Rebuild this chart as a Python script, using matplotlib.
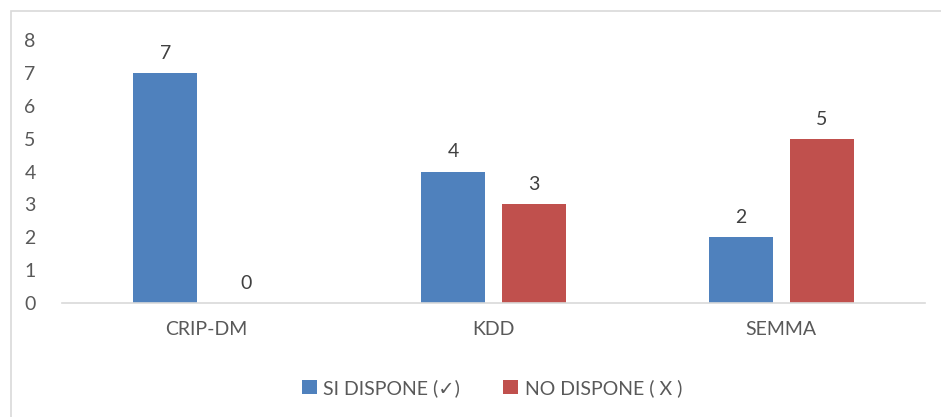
import matplotlib
matplotlib.use("Agg")
import matplotlib.pyplot as plt
from matplotlib.patches import Rectangle
import numpy as np

categories = ["CRIP-DM", "KDD", "SEMMA"]
si_dispone = [7, 4, 2]
no_dispone = [0, 3, 5]
series_labels = ["SI DISPONE (\u2713)", "NO DISPONE ( X )"]
yticks = [0, 1, 2, 3, 4, 5, 6, 7, 8]

BLUE = "#4F81BD"
RED = "#C0504D"
TEXT = "#595959"
FONT = ["Lato", "DejaVu Sans"]

plt.rcParams["font.family"] = FONT

fig = plt.figure(figsize=(9.41, 4.17), dpi=100)
W, H = 941, 417

# light frame around the chart area
fig.patches.append(Rectangle((11 / W, -0.01), (W - 11) / W + 0.01, (H - 11) / H + 0.01,
                             transform=fig.transFigure, fill=False,
                             edgecolor="#D9D9D9", linewidth=1.2))

ax = fig.add_axes([62 / W, 1 - 303 / H, (925 - 62) / W, (303 - 40) / H])
x = np.arange(len(categories))
width = 0.2225
off = 0.141
b1 = ax.bar(x - off, si_dispone, width, color=BLUE, label=series_labels[0], zorder=2)
b2 = ax.bar(x + off, no_dispone, width, color=RED, label=series_labels[1], zorder=2)

for bars, vals in ((b1, si_dispone), (b2, no_dispone)):
    for rect, v in zip(bars, vals):
        ax.annotate(str(v), (rect.get_x() + rect.get_width() / 2, v),
                    xytext=(0, 8), textcoords="offset points",
                    ha="center", va="bottom", fontsize=14, color="#404040")

ax.set_xlim(-0.5, 2.5)
ax.set_ylim(0, 8)
ax.set_yticks(yticks)
ax.set_xticks(x)
ax.set_xticklabels(categories)
ax.tick_params(axis="both", length=0, labelsize=14, colors=TEXT)
ax.tick_params(axis="y", pad=19)
ax.tick_params(axis="x", pad=13)
for s in ("top", "right", "left"):
    ax.spines[s].set_visible(False)
ax.spines["bottom"].set_color("#D9D9D9")
ax.spines["bottom"].set_linewidth(1.2)

leg = fig.legend(handles=[b1, b2], loc="center", bbox_to_anchor=(492 / W, 1 - 388 / H),
                 ncol=2, frameon=False, fontsize=14, handlelength=0.75,
                 handleheight=0.75, handletextpad=0.35, columnspacing=2.2)
for t in leg.get_texts():
    t.set_color(TEXT)

fig.savefig("out.png", dpi=100)
